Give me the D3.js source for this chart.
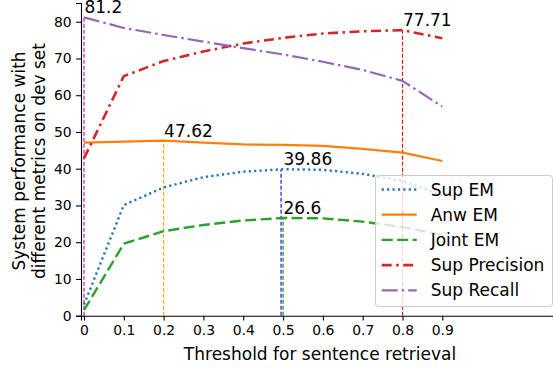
<!DOCTYPE html>
<html>
<head>
<meta charset="utf-8">
<script src="https://cdn.jsdelivr.net/npm/d3@7"></script>
<style>
  html, body { margin: 0; padding: 0; background: #fff; }
  svg { display: block; font-family: "DejaVu Sans", sans-serif; }
</style>
</head>
<body>
<svg id="chart" width="553" height="368"></svg>
<script>
// Thresholds for sentence retrieval
const thresholds = [0, 0.1, 0.2, 0.3, 0.4, 0.5, 0.6, 0.7, 0.8, 0.9];

// Metric values on the dev set at each threshold
const supEM        = [3.0, 30.1, 34.9, 37.7, 39.2, 39.86, 39.7, 38.6, 36.7, 32.8];
const anwEM        = [47.1, 47.4, 47.62, 47.1, 46.6, 46.5, 46.2, 45.4, 44.4, 42.1];
const jointEM      = [1.5, 19.6, 23.0, 24.7, 25.9, 26.6, 26.5, 25.6, 24.1, 22.0];
const supPrecision = [42.8, 65.2, 69.3, 71.9, 74.1, 75.6, 76.8, 77.4, 77.71, 75.5];
const supRecall    = [81.2, 78.3, 76.4, 74.6, 72.8, 71.1, 69.1, 66.9, 63.9, 56.9];

const xTicks = [0, 0.1, 0.2, 0.3, 0.4, 0.5, 0.6, 0.7, 0.8, 0.9];
const xTickLabels = ["0", "0.1", "0.2", "0.3", "0.4", "0.5", "0.6", "0.7", "0.8", "0.9"];
const yTicks = [0, 10, 20, 30, 40, 50, 60, 70, 80];

// Best-value markers: vertical guide from 0 to the value, with the value printed
const peakX      = [0, 0.2, 0.495, 0.5, 0.8];
const peakY      = [81.2, 47.62, 39.86, 26.6, 77.71];
const peakColors = ["#bf00bf", "#ffa500", "#0000ff", "#008000", "#ff0000"];
const peakLabels = ["81.2", "47.62", "39.86", "26.6", "77.71"];
const labelX     = [0, 0.2, 0.5, 0.5, 0.8];

const series = [
  { name: "Sup EM",        values: supEM,        color: "#1f77b4", dash: "2.2,3.2",         width: 2.4 },
  { name: "Anw EM",        values: anwEM,        color: "#ff7f0e", dash: null,              width: 2.2 },
  { name: "Joint EM",      values: jointEM,      color: "#2ca02c", dash: "11,4.5",          width: 2.4 },
  { name: "Sup Precision", values: supPrecision, color: "#d62728", dash: "10,4.5,2.5,4.5",  width: 2.6 },
  { name: "Sup Recall",    values: supRecall,    color: "#9467bd", dash: "16,4,2.5,4",      width: 2.2 }
];

const svg = d3.select("#chart");
const plotLeft = 81, plotRight = 553, plotTop = 3, plotBottom = 315.7;

const x = d3.scaleLinear().domain([-0.0075, 1.178]).range([plotLeft, plotRight]);
const y = d3.scaleLinear().domain([0, 85.1]).range([plotBottom, plotTop]);

// Axes
const xAxis = d3.axisBottom(x).tickValues(xTicks)
  .tickFormat((d, i) => xTickLabels[i]).tickSizeOuter(0).tickSize(4.9).tickPadding(4.5);
const yAxis = d3.axisLeft(y).tickValues(yTicks).tickSizeOuter(0).tickSize(4.9).tickPadding(4.5);

const gx = svg.append("g").attr("transform", `translate(0,${plotBottom})`).call(xAxis);
const gy = svg.append("g").attr("transform", `translate(${plotLeft},0)`).call(yAxis);
[gx, gy].forEach(g => {
  g.select(".domain").attr("stroke", "#000").attr("stroke-width", 1.1);
  g.selectAll(".tick line").attr("stroke", "#000").attr("stroke-width", 1.1);
  g.selectAll(".tick text").attr("fill", "#000")
    .style("font-family", "'DejaVu Sans', sans-serif").style("font-size", "13.9px");
});
gx.selectAll(".tick text").attr("dy", "0.71em");

// Axis titles
svg.append("text")
  .attr("x", 320).attr("y", 360)
  .attr("text-anchor", "middle")
  .style("font-size", "17px")
  .text("Threshold for sentence retrieval");

const yl = svg.append("text")
  .attr("transform", "translate(25,161) rotate(-90)")
  .attr("text-anchor", "middle")
  .style("font-size", "17px");
yl.append("tspan").attr("x", 0).attr("y", 0).text("System performance with");
yl.append("tspan").attr("x", 0).attr("y", 20.3).text("different metrics on dev set");

// Vertical guides at the best values
peakX.forEach((px, i) => {
  svg.append("line")
    .attr("x1", x(px)).attr("x2", x(px))
    .attr("y1", y(0)).attr("y2", y(peakY[i]))
    .attr("stroke", peakColors[i]).attr("stroke-width", 1.1)
    .attr("stroke-dasharray", "4,2");
});

// Metric lines
const line = d3.line().x((d, i) => x(thresholds[i])).y(d => y(d));
series.forEach(s => {
  svg.append("path")
    .datum(s.values)
    .attr("d", line)
    .attr("fill", "none")
    .attr("stroke", s.color)
    .attr("stroke-width", s.width)
    .attr("stroke-dasharray", s.dash)
    .attr("stroke-linejoin", "round");
});

// Value labels
peakLabels.forEach((t, i) => {
  svg.append("text")
    .attr("x", x(labelX[i]) + 0.5)
    .attr("y", y(peakY[i]) - 4)
    .style("font-size", "17px")
    .text(t);
});

// Legend
const lg = svg.append("g");
lg.append("rect")
  .attr("x", 375.5).attr("y", 175.5).attr("width", 177).attr("height", 131)
  .attr("rx", 3).attr("ry", 3)
  .attr("fill", "#fff").attr("fill-opacity", 0.8)
  .attr("stroke", "#cccccc").attr("stroke-width", 1);
series.forEach((s, i) => {
  const cy = 189.5 + i * 25.2;
  lg.append("line")
    .attr("x1", 381.7).attr("x2", 416.7).attr("y1", cy).attr("y2", cy)
    .attr("stroke", s.color).attr("stroke-width", s.width)
    .attr("stroke-dasharray", s.dash);
  lg.append("text")
    .attr("x", 430.7).attr("y", cy)
    .attr("dy", "0.36em")
    .style("font-size", "17px")
    .text(s.name);
});
</script>
</body>
</html>
